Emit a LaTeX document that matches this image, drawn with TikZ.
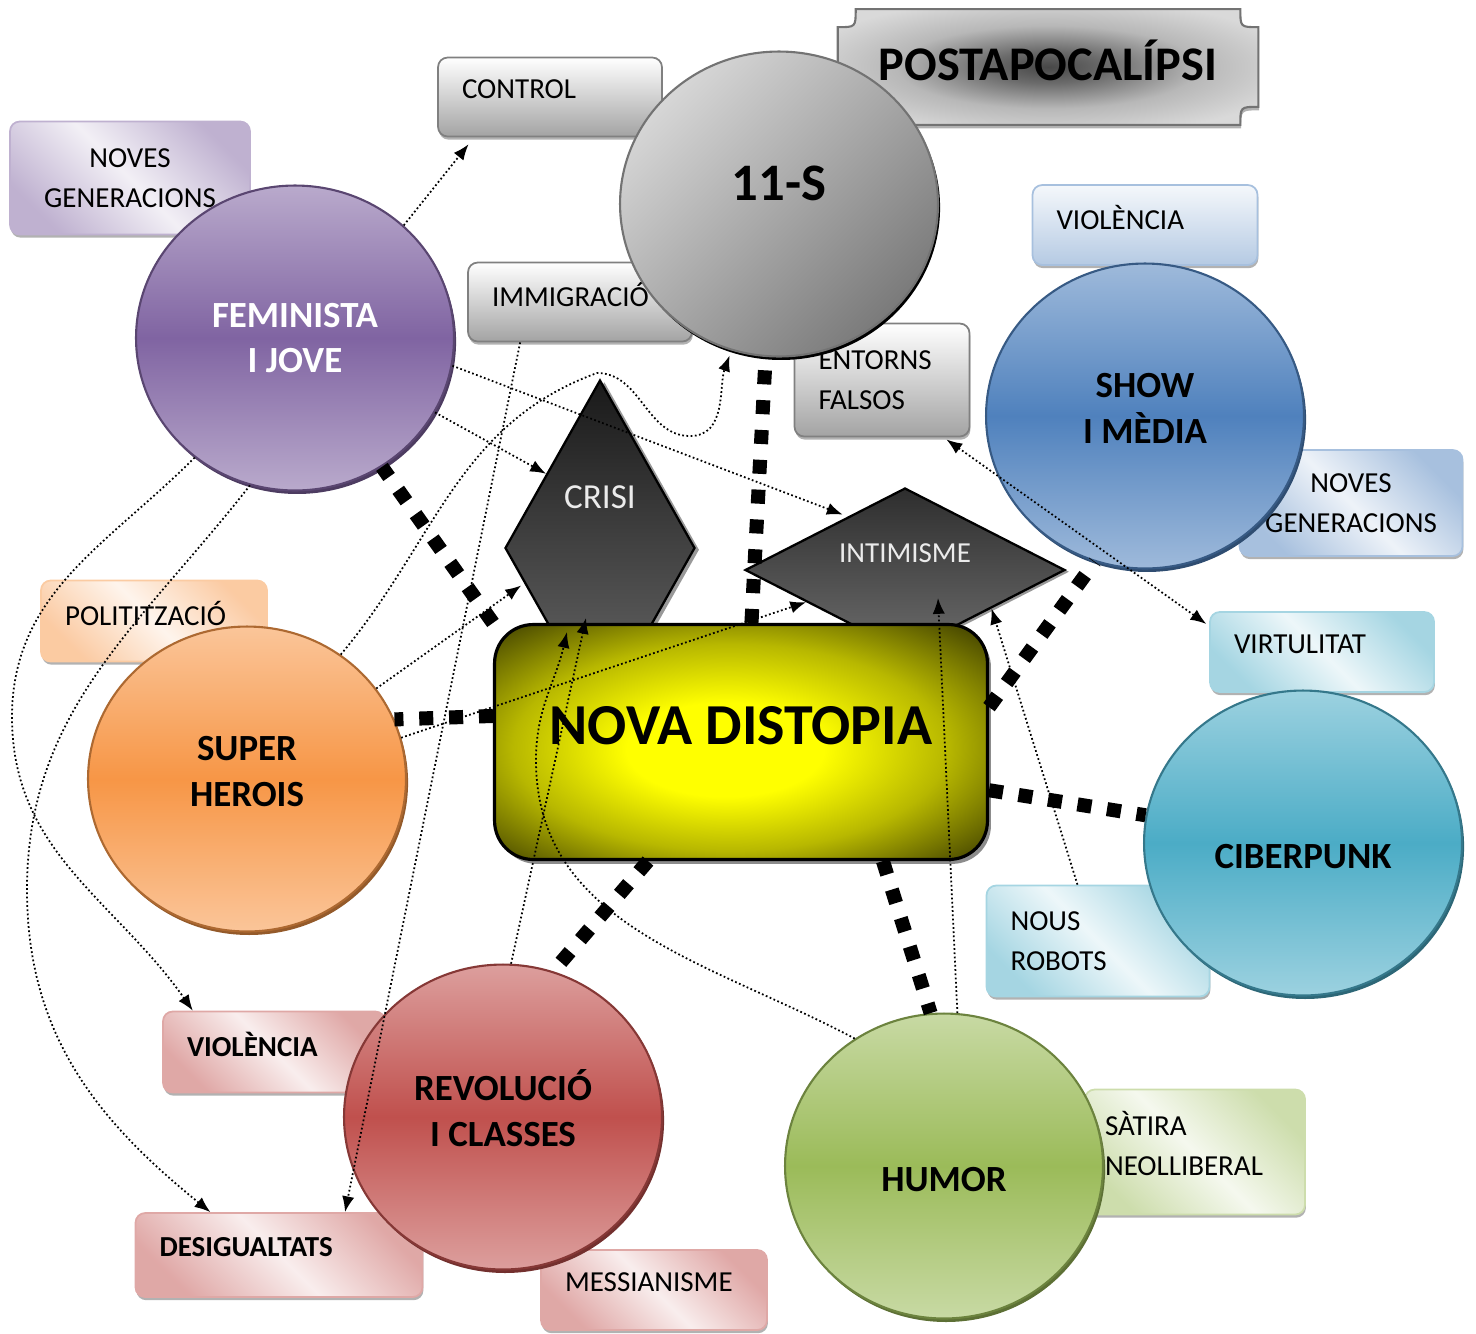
\documentclass[tikz,border=0pt]{standalone}
\usepackage{fontspec}
\setmainfont{Carlito}
\usepackage{tikz}
\usetikzlibrary{arrows.meta,positioning,shapes.geometric,shadows,calc,backgrounds}
\definecolor{OffPurple}{HTML}{8064A2}
\definecolor{OffBlue}{HTML}{4F81BD}
\definecolor{OffOrange}{HTML}{F79646}
\definecolor{OffAqua}{HTML}{4BACC6}
\definecolor{OffRed}{HTML}{C0504D}
\definecolor{OffGreen}{HTML}{9BBB59}
\pgfdeclareradialshading{novaglow}{\pgfpoint{-2bp}{-2bp}}{color(0bp)=(yellow); color(10bp)=(yellow); color(22bp)=(yellow!72!black); color(35bp)=(yellow!26!black); color(45bp)=(black); color(50bp)=(black)}
\pgfdeclareradialshading{plaqueglow}{\pgfpoint{0bp}{0bp}}{color(0bp)=(black!72); color(7bp)=(black!58); color(18bp)=(black!28); color(30bp)=(black!15); color(50bp)=(black!13)}
\newcommand{\tagfont}{\fontsize{16.5}{23}\selectfont}
\tikzset{
  map/genre/.style={ellipse, draw=#1!70!black, line width=1.2pt, minimum width=6.36cm, minimum height=6.1cm, inner sep=0pt, align=center, font=\bfseries\fontsize{21}{26}\selectfont, top color=#1!55, bottom color=#1!55, middle color=#1, drop shadow={shadow xshift=1.2pt, shadow yshift=-2pt, fill=#1!60!black, opacity=1}},
  map/tag/.style={rectangle, rounded corners=5.5pt, draw=#1!50, line width=1pt, inner xsep=0.48cm, inner ysep=2pt, align=left, font=\tagfont, top color=#1!50, bottom color=#1!50, middle color=#1!10, shading angle=-45, drop shadow={shadow xshift=0.5pt, shadow yshift=-1.8pt, fill=black!30, opacity=1}},
  map/greytag/.style={map/tag=black, top color=white, bottom color=black!36, draw=black!50},
  map/oneline/.style={text depth=9pt},
  map/pit/.style={diamond, draw=black, line width=1.3pt, inner sep=0pt, text=white!92!black, top color=black!90, bottom color=black!58, drop shadow={shadow xshift=2.5pt, shadow yshift=-1pt, fill=black!40, opacity=1}},
  map/core/.style={rectangle, rounded corners=22pt, draw=black, line width=1.8pt, minimum width=9.86cm, minimum height=4.7cm, shade, shading=novaglow, font=\bfseries\fontsize{33}{40}\selectfont, text depth=19pt, drop shadow={shadow xshift=2pt, shadow yshift=-2.5pt, fill=black!45, opacity=1}},
  map/title/.style={minimum width=8.4cm, minimum height=2.3cm, inner sep=0pt, text depth=8pt, font=\bfseries\fontsize{27.5}{32}\selectfont},
  map/link/.style={line width=8pt, dash pattern=on 8pt off 9pt},
  map/cue/.style={line width=1pt, dash pattern=on 1pt off 1.4pt, -{Latex[length=9pt,width=7pt]}},
  map/cuetwo/.style={map/cue, {Latex[length=9pt,width=7pt]}-{Latex[length=9pt,width=7pt]}}
}

\begin{document}
\begin{tikzpicture}[x=0.02cm, y=-0.02cm]
  \useasboundingbox (0,0) rectangle (1476,1333);

  % side tags, drawn first so the discs overlap them
  \node[map/tag=OffPurple, minimum width=4.8cm, minimum height=2.26cm, text width=3.84cm, align=center] (ngenL) at (130,178) {NOVES\\GENERACIONS};
  \node[map/greytag, map/oneline, minimum width=4.48cm, minimum height=1.58cm, text width=3.52cm] (control) at (550,97) {CONTROL};
  \node[map/greytag, map/oneline, minimum width=4.48cm, minimum height=1.58cm, text width=3.52cm] (immig) at (580,302) {IMMIGRACIÓ};
  \node[map/greytag, minimum width=3.5cm, minimum height=2.26cm, text width=2.54cm] (entorns) at (882,380) {ENTORNS\\FALSOS};
  \node[map/tag=OffBlue, map/oneline, top color=OffBlue!6, bottom color=OffBlue!42, minimum width=4.5cm, minimum height=1.6cm, text width=3.54cm] (violB) at (1145,225) {VIOLÈNCIA};
  \node[map/tag=OffBlue, minimum width=4.46cm, minimum height=2.12cm, text width=3.5cm, align=center] (ngenR) at (1351,503) {NOVES\\GENERACIONS};
  \node[map/tag=OffAqua, map/oneline, minimum width=4.48cm, minimum height=1.6cm, text width=3.52cm] (virt) at (1322,652) {VIRTULITAT};
  \node[map/tag=OffAqua, minimum width=4.46cm, minimum height=2.22cm, text width=3.5cm] (robots) at (1098,941) {NOUS\\ROBOTS};
  \node[map/tag=OffGreen, text depth=33pt, inner xsep=0.4cm, minimum width=4.4cm, minimum height=2.5cm, text width=3.6cm] (satira) at (1195,1152) {SÀTIRA\\NEOLLIBERAL};
  \node[map/tag=OffRed, map/oneline, minimum width=4.52cm, minimum height=1.6cm, text width=3.56cm] (messia) at (654,1290) {MESSIANISME};
  \node[map/tag=OffRed, map/oneline, font=\tagfont\bfseries, minimum width=5.74cm, minimum height=1.68cm, text width=4.78cm] (desig) at (279,1255) {DESIGUALTATS};
  \node[map/tag=OffRed, map/oneline, font=\tagfont\bfseries, minimum width=4.44cm, minimum height=1.62cm, text width=3.48cm] (violR) at (274,1052) {VIOLÈNCIA};
  \node[map/tag=OffOrange, map/oneline, minimum width=4.52cm, minimum height=1.62cm, text width=3.56cm] (polit) at (154,621) {POLITITZACIÓ};

  % title plaque
  \node[map/title] (plaque) at (1048,67) {POSTAPOCALÍPSI};
  \begin{scope}[on background layer]
    \path[draw=black!55, line width=1.2pt, shade, shading=plaqueglow, drop shadow={shadow xshift=0.5pt, shadow yshift=-2pt, fill=black!30, opacity=1}]
      ($(plaque.north west)+(18,0)$) -- ($(plaque.north east)+(-18,0)$)
      .. controls ($(plaque.north east)+(-18,18)$) .. ($(plaque.north east)+(0,18)$)
      -- ($(plaque.south east)+(0,-18)$)
      .. controls ($(plaque.south east)+(-18,-18)$) .. ($(plaque.south east)+(-18,0)$)
      -- ($(plaque.south west)+(18,0)$)
      .. controls ($(plaque.south west)+(18,-18)$) .. ($(plaque.south west)+(0,-18)$)
      -- ($(plaque.north west)+(0,18)$)
      .. controls ($(plaque.north west)+(18,18)$) .. ($(plaque.north west)+(18,0)$) -- cycle;
  \end{scope}

  % discs
  \node[map/genre=OffPurple, text=white] (fem) at (295,338) {FEMINISTA\\I JOVE};
  \node[map/genre=black, top color=black!16, bottom color=black!52, shading angle=45, draw=black!55, font=\bfseries\fontsize{30}{36}\selectfont, text depth=24pt] (s11) at (779,204) {11-S};
  \node[map/genre=OffBlue, text depth=9pt] (show) at (1145,416) {SHOW\\I MÈDIA};
  \node[map/genre=OffOrange, text depth=9pt] (super) at (247,779) {SUPER\\HEROIS};
  \node[map/genre=OffAqua, text height=29pt] (ciber) at (1303,843) {CIBERPUNK};
  \node[map/genre=OffRed, text depth=10pt] (rev) at (503,1117) {REVOLUCIÓ\\I CLASSES};
  \node[map/genre=OffGreen, text height=29pt] (humor) at (944,1166) {HUMOR};

  % diamonds under the core box
  \node[map/pit, aspect=0.5655, minimum width=3.8cm, minimum height=6.72cm, font=\fontsize{20}{24}\selectfont, text depth=58pt] (crisi) at (600,548) {CRISI};
  \node[map/pit, aspect=1.95, minimum width=6.4cm, minimum height=3.28cm, font=\tagfont, text depth=19pt, top color=black!82] (intim) at (905,570) {INTIMISME};

  % core
  \node[map/core] (nova) at (741,742) {NOVA DISTOPIA};

  % heavy links
  \draw[map/link] (nova.north west) -- (fem.-56);
  \draw[map/link] (nova.85) -- (s11.-95);
  \draw[map/link] (nova.8) -- (show.-109);
  \draw[map/link] (nova.-11) -- (ciber.170);
  \draw[map/link] (nova.-40) -- (humor.95);
  \draw[map/link] (nova.-128) -- (rev.71);
  \draw[map/link] (nova.174) -- (super.22);

  % dotted cues
  \coordinate (wavetop) at (597,373);
  \coordinate (wavelow) at (690,436);
  \coordinate (bendA) at (12,717);
  \coordinate (bendB) at (27,890);
  \coordinate (hbend) at (536,760);
  \coordinate (crisiheel) at (567,632);
  \coordinate (crisitoe) at (586,618);
  \coordinate (intimfoot) at (938,598);
  \draw[map/cue, shorten >=5pt] (fem.46) -- (control.208);
  \draw[map/cue, shorten >=3pt] (fem.-10) -- (intim.137);
  \draw[map/cue] (fem.-28) -- (crisi.126);
  \draw[map/cue] (fem.230) to[out=225,in=90] (bendA) to[out=-90,in=125] (violR.153);
  \draw[map/cue] (fem.253) to[out=232,in=90] (bendB) to[out=-90,in=141] (desig.148);
  \draw[map/cue, shorten >=3pt] (super.53) to[out=50,in=200] (wavetop) to[out=0,in=180] (wavelow) to[out=0,in=-110] (s11.-108);
  \draw[map/cue, shorten >=2pt] (super.35) -- (crisi.205);
  \draw[map/cue] (super.15) -- (intim.198);
  \draw[map/cue] (immig.214) -- (desig.33);
  \draw[map/cue] (rev.87) -- (crisitoe);
  \draw[map/cue] (humor.125) to[out=152,in=-90] (hbend) to[out=90,in=-103] (crisiheel);
  \draw[map/cue] (humor.85) -- (intimfoot);
  \draw[map/cue] (robots.110) -- (intim.-24);
  \draw[map/cuetwo, shorten <=2pt, shorten >=2pt] (entorns.-43) -- (virt.167);
\end{tikzpicture}
\end{document}
